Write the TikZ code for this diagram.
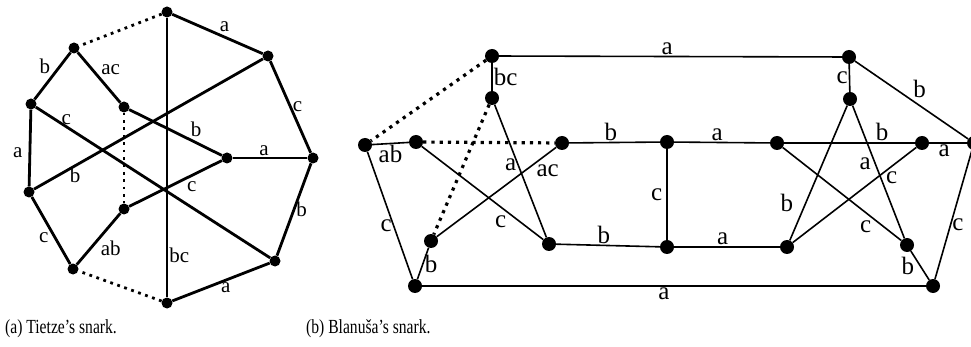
\documentclass[tikz,border=0pt]{standalone}
\usepackage{fontspec}
\setmainfont{Liberation Serif}
\newfontfamily\capfont[FakeStretch=0.78]{Liberation Serif}
\usetikzlibrary{positioning}

\begin{document}
\begin{tikzpicture}[
  x=1pt,y=-1pt,
  dot/.style={circle,fill=black,inner sep=0pt,minimum size=11pt},
  bigdot/.style={circle,fill=black,inner sep=0pt,minimum size=14pt},
  tz/.style={line width=2.8pt},
  bl/.style={line width=1.6pt},
  tzmiss/.style={line width=2.8pt,dash pattern=on 2.8pt off 4.6pt},
  blmiss/.style={line width=3.2pt,dash pattern=on 3.2pt off 5pt},
  lbl/.style={inner sep=1pt,font=\fontsize{21}{21}\selectfont},
  blbl/.style={inner sep=1pt,font=\fontsize{25}{25}\selectfont},
  captext/.style={inner sep=0pt,font=\capfont\fontsize{20}{20}\selectfont}
]
\useasboundingbox (0,0) rectangle (971,347);

\node[dot] (t1) at (167,12) {};
\node[dot] (t2) at (268,56) {};
\node[dot] (t3) at (313,158) {};
\node[dot] (t4) at (275,261) {};
\node[dot] (t5) at (167,303) {};
\node[dot] (t6) at (73,269) {};
\node[dot] (t7) at (29,192) {};
\node[dot] (t8) at (31,104) {};
\node[dot] (t9) at (74,48) {};
\node[dot] (i1) at (124,107) {};
\node[dot] (i2) at (227,158) {};
\node[dot] (i3) at (124,209) {};

\draw[tzmiss] (t1) -- (t9);
\draw[tzmiss] (t5) -- (t6);
\draw[tzmiss] (i1) -- (i3);
\draw[tz] (t1) -- node[lbl,above right,pos=0.5] {a} (t2);
\draw[tz] (t2) -- node[lbl,right] {c} (t3);
\draw[tz] (t3) -- node[lbl,above,pos=0.58] {a} (i2);
\draw[tz] (t3) -- node[lbl,right] {b} (t4);
\draw[tz] (t4) -- node[lbl,below,pos=0.45] {a} (t5);
\draw[tz] (t1) -- node[lbl,right,pos=0.85] {bc} (t5);
\draw[tz] (t6) -- node[lbl,left=4pt,pos=0.4] {c} (t7);
\draw[tz] (t6) -- node[lbl,below right,pos=0.5] {ab} (i3);
\draw[tz] (t7) -- node[lbl,left=5pt,pos=0.44] {a} (t8);
\draw[tz] (t8) -- node[lbl,above left] {b} (t9);
\draw[tz] (t9) -- node[lbl,above right] {ac} (i1);
\draw[tz] (t8) -- node[lbl,above,pos=0.13] {c} (t4);
\draw[tz] (t7) -- node[lbl,below,pos=0.18] {b} (t2);
\draw[tz] (i1) -- node[lbl,above right,pos=0.64] {b} (i2);
\draw[tz] (i3) -- node[lbl,below right,pos=0.6] {c} (i2);

\node[bigdot] (b1) at (492,56) {};
\node[bigdot] (b2) at (492,98) {};
\node[bigdot] (b3) at (365,145) {};
\node[bigdot] (b4) at (416,142) {};
\node[bigdot] (b5) at (562,143) {};
\node[bigdot] (b6) at (431,241) {};
\node[bigdot] (b7) at (415,286) {};
\node[bigdot] (b8) at (549,244) {};
\node[bigdot] (b9) at (849,57) {};
\node[bigdot] (b10) at (850,99) {};
\node[bigdot] (b11) at (667,142) {};
\node[bigdot] (b12) at (777,143) {};
\node[bigdot] (b13) at (922,143) {};
\node[bigdot] (b14) at (974,143) {};
\node[bigdot] (b15) at (667,247) {};
\node[bigdot] (b16) at (787,247) {};
\node[bigdot] (b17) at (907,245) {};
\node[bigdot] (b18) at (933,286) {};

\draw[blmiss] (b1) -- (b3);
\draw[blmiss] (b4) -- (b5);
\draw[blmiss] (b2) -- (b6);
\draw[bl] (b1) -- node[blbl,above,pos=0.49] {a} (b9);
\draw[bl] (b1) -- node[blbl,right] {bc} (b2);
\draw[bl] (b3) -- node[blbl,below] {ab} (b4);
\draw[bl] (b3) -- node[blbl,left,pos=0.58] {c} (b7);
\draw[bl] (b4) -- node[blbl,below=7pt,pos=0.65] {c} (b8);
\draw[bl] (b2) -- node[blbl,left,pos=0.45] {a} (b8);
\draw[bl] (b5) -- node[blbl,below right,pos=0.18] {ac} (b6);
\draw[bl] (b5) -- node[blbl,above,pos=0.46] {b} (b11);
\draw[bl] (b6) -- node[blbl,right] {b} (b7);
\draw[bl] (b8) -- node[blbl,above,pos=0.46] {b} (b15);
\draw[bl] (b7) -- node[blbl,below,pos=0.48] {a} (b18);
\draw[bl] (b11) -- node[blbl,left=3pt] {c} (b15);
\draw[bl] (b11) -- node[blbl,above,pos=0.45] {a} (b12);
\draw[bl] (b15) -- node[blbl,above,pos=0.46] {a} (b16);
\draw[bl] (b9) -- node[blbl,left] {c} (b10);
\draw[bl] (b9) -- node[blbl,above right,pos=0.5] {b} (b14);
\draw[bl] (b12) -- node[blbl,above,pos=0.75] {b} (b13);
\draw[bl] (b13) -- node[blbl,below,pos=0.4] {a} (b14);
\draw[bl] (b12) -- node[blbl,below=6pt,pos=0.7] {c} (b17);
\draw[bl] (b10) -- node[blbl,left=11pt,pos=0.72] {b} (b16);
\draw[bl] (b10) -- node[blbl,left=3pt,pos=0.44] {a} (b17);
\draw[bl] (b13) -- node[blbl,below=3pt,pos=0.2] {c} (b16);
\draw[bl] (b17) -- node[blbl,left=4pt] {b} (b18);
\draw[bl] (b14) -- node[blbl,right,pos=0.58] {c} (b18);

\node[captext,anchor=base west] (capa) at (5,333) {(a) Tietze’s snark.};
\node[captext,anchor=base west] (capb) at (306,333) {(b) Blanuša’s snark.};
\end{tikzpicture}
\end{document}
